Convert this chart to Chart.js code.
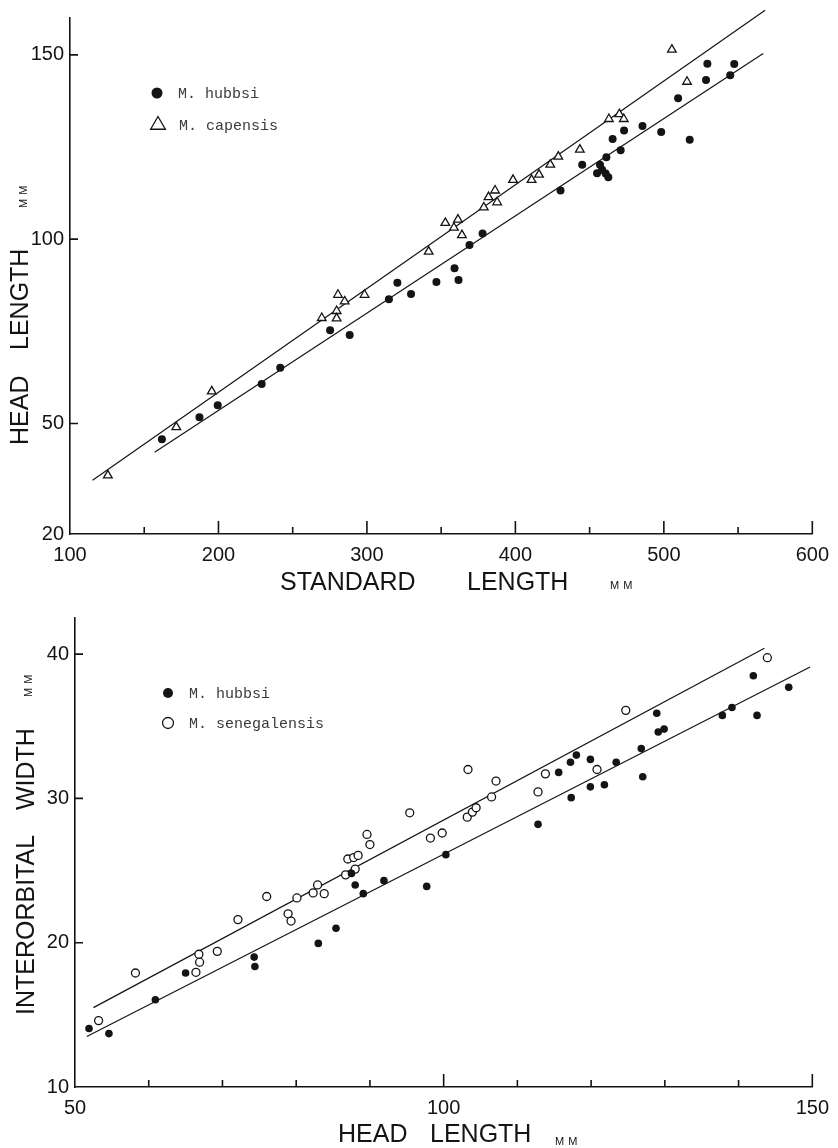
<!DOCTYPE html>
<html>
<head>
<meta charset="utf-8">
<title>Merluccius - head length and interorbital width</title>
<script src="https://cdn.jsdelivr.net/npm/chart.js@4"></script>
<style>
  html, body { margin: 0; padding: 0; background: #fff; }
  canvas { position: absolute; left: 0; }
  #top-chart { top: 0; }
  #bottom-chart { top: 600px; }
</style>
</head>
<body>
<canvas id="top-chart" width="838" height="600"></canvas>
<canvas id="bottom-chart" width="838" height="548"></canvas>
<script>
// ---- upper panel: standard length (x) vs head length (y), mm ----
const slTickLabels = [100, 200, 300, 400, 500, 600];
const slMinorTicks = [150, 250, 350, 450, 550];
const headTickLabels = [20, 50, 100, 150];

const slHubbsiX = [161.9, 187.2, 199.5, 229.1, 241.6, 275.2, 288.4, 314.8, 320.5, 329.7, 346.8, 359.0,
  361.7, 369.1, 377.9, 430.4, 445.0, 455.0, 457.0, 458.4, 460.8, 462.6, 461.3, 465.5, 470.9, 473.2,
  485.6, 498.2, 509.6, 517.4, 528.4, 529.3, 544.7, 547.4];
const headHubbsiY = [45.7, 51.7, 54.9, 60.7, 65.1, 75.3, 74.0, 83.7, 88.2, 85.1, 88.4, 92.1,
  88.9, 98.4, 101.5, 113.2, 120.2, 117.9, 120.2, 118.8, 117.8, 116.8, 122.2, 127.2, 124.1, 129.5,
  130.7, 129.1, 138.2, 127.0, 143.2, 147.6, 144.5, 147.5];

const slCapensisX = [125.5, 171.6, 195.5, 269.6, 279.6, 279.6, 280.5, 285.0, 298.4, 341.6, 352.8, 358.6,
  361.3, 364.0, 378.7, 381.9, 386.3, 387.7, 398.4, 410.9, 415.9, 423.5, 428.9, 443.4, 463.0, 470.0,
  473.0, 505.4, 515.6];
const headCapensisY = [35.9, 49.0, 58.7, 78.6, 80.5, 78.5, 84.9, 83.1, 84.9, 96.6, 104.4, 103.1,
  105.3, 101.1, 108.6, 111.4, 113.2, 110.0, 116.1, 116.1, 117.5, 120.2, 122.4, 124.3, 132.6, 133.9,
  132.6, 151.4, 142.7];

// fitted lines, end points as drawn
const capensisLineX = [115.2, 568.2];
const capensisLineY = [34.6, 162.1];
const hubbsiLineX = [157.0, 566.9];
const hubbsiLineY = [42.2, 150.4];

// ---- lower panel: head length (x) vs interorbital width (y), mm ----
const hlTickLabels = [50, 100, 150];
const hlMinorTicks = [60, 70, 80, 90, 110, 120, 130, 140];
const iwTickLabels = [10, 20, 30, 40];

const hlHubbsiX = [51.9, 54.6, 60.9, 65.0, 74.3, 74.4, 83.0, 85.4, 87.5, 88.0, 89.1, 91.9, 97.7,
  100.3, 112.8, 115.6, 117.2, 117.3, 118.0, 119.9, 119.9, 121.8, 123.4, 126.8, 127.0, 128.9,
  129.1, 129.9, 137.8, 139.1, 142.0, 142.5, 146.8];
const iwHubbsiY = [14.05, 13.7, 16.05, 17.9, 19.0, 18.35, 19.95, 21.0, 24.8, 24.0, 23.4, 24.3, 23.9,
  26.1, 28.2, 31.8, 32.5, 30.05, 33.0, 32.7, 30.8, 30.95, 32.5, 33.45, 31.5, 35.9,
  34.6, 34.8, 35.75, 36.3, 38.5, 35.75, 37.7];

const hlSenegX = [53.2, 58.2, 66.4, 66.9, 66.8, 69.3, 72.1, 76.0, 78.9, 79.3, 80.1, 82.3, 82.9, 83.8,
  86.7, 88.0, 87.0, 87.8, 88.4, 90.0, 89.6, 95.4, 98.2, 99.8, 103.3, 103.2, 103.9, 104.4, 106.5,
  107.1, 112.8, 113.8, 120.8, 124.7, 143.9];
const iwSenegY = [14.6, 17.9, 17.95, 18.65, 19.2, 19.4, 21.6, 23.2, 22.0, 21.5, 23.1, 23.45, 24.0, 23.4,
  24.7, 25.1, 25.8, 25.9, 26.05, 26.8, 27.5, 29.0, 27.25, 27.6, 32.0, 28.7, 29.05, 29.35, 30.1,
  31.2, 30.45, 31.7, 32.0, 36.1, 39.75];

const senegLineX = [52.5, 143.5];
const senegLineY = [15.5, 40.4];
const hubbsiLine2X = [51.6, 149.7];
const hubbsiLine2Y = [13.5, 39.1];

// ---- shared styling ----
const INK = '#141414';
const SANS = '"Liberation Sans", Arial, sans-serif';
const MONO = '"Liberation Mono", "DejaVu Sans Mono", monospace';

const pts = (xs, ys) => xs.map((x, i) => ({ x: x, y: ys[i] }));

function fixedTicks(values) {
  return scale => { scale.ticks = values.map(v => ({ value: v })); };
}

function lineDataset(xs, ys) {
  return {
    data: pts(xs, ys),
    showLine: true,
    fill: false,
    borderColor: INK,
    borderWidth: 1.2,
    pointRadius: 0,
    clip: false,
    order: 2
  };
}

function axisScale(min, max, ticks, fitSize, isX) {
  return {
    type: 'linear',
    min: min,
    max: max,
    afterBuildTicks: fixedTicks(ticks),
    afterFit: scale => {
      if (isX) scale.height = fitSize; else scale.width = fitSize;
    },
    grid: { display: false, drawTicks: false },
    border: { display: true, color: INK, width: 1.6 },
    ticks: {
      color: INK,
      font: { family: SANS, size: 20 },
      padding: isX ? 9 : 6,
      maxRotation: 0,
      autoSkip: false
    }
  };
}

// tick marks point inward from the axes, drawn through the chart's scales
function inwardTicks(xMajor, xMinor, yMajor) {
  return {
    id: 'inwardTicks',
    afterDraw(chart) {
      const { ctx, chartArea, scales } = chart;
      ctx.save();
      ctx.strokeStyle = INK;
      ctx.lineWidth = 1.6;
      ctx.beginPath();
      xMajor.forEach(v => {
        const px = scales.x.getPixelForValue(v);
        ctx.moveTo(px, chartArea.bottom);
        ctx.lineTo(px, chartArea.bottom - 13);
      });
      xMinor.forEach(v => {
        const px = scales.x.getPixelForValue(v);
        ctx.moveTo(px, chartArea.bottom);
        ctx.lineTo(px, chartArea.bottom - 7);
      });
      yMajor.forEach(v => {
        const py = scales.y.getPixelForValue(v);
        ctx.moveTo(chartArea.left, py);
        ctx.lineTo(chartArea.left + 8, py);
      });
      ctx.stroke();
      ctx.restore();
    }
  };
}

// axis titles with the small "MM" unit
function axisTitles(xParts, yParts) {
  return {
    id: 'axisTitles',
    afterDraw(chart) {
      const ctx = chart.ctx;
      ctx.save();
      ctx.fillStyle = INK;
      ctx.textBaseline = 'alphabetic';
      ctx.textAlign = 'left';
      xParts.forEach(p => {
        ctx.font = p.size + 'px ' + SANS;
        ctx.letterSpacing = p.spacing || '0px';
        ctx.fillText(p.text, p.x, p.y);
      });
      yParts.forEach(p => {
        ctx.save();
        ctx.translate(p.x, p.y);
        ctx.rotate(-Math.PI / 2);
        ctx.font = p.size + 'px ' + SANS;
        ctx.letterSpacing = p.spacing || '0px';
        ctx.fillText(p.text, 0, 0);
        ctx.restore();
      });
      ctx.restore();
    }
  };
}

// small key in the upper left corner of each panel
function keyBox(rows) {
  return {
    id: 'keyBox',
    afterDraw(chart) {
      const ctx = chart.ctx;
      ctx.save();
      rows.forEach(r => {
        ctx.beginPath();
        if (r.shape === 'triangle') {
          const rad = r.r;
          ctx.moveTo(r.x, r.y - rad);
          ctx.lineTo(r.x + rad * Math.sin(2 * Math.PI / 3), r.y - rad * Math.cos(2 * Math.PI / 3));
          ctx.lineTo(r.x + rad * Math.sin(4 * Math.PI / 3), r.y - rad * Math.cos(4 * Math.PI / 3));
          ctx.closePath();
        } else {
          ctx.arc(r.x, r.y, r.r, 0, Math.PI * 2);
        }
        if (r.filled) {
          ctx.fillStyle = INK;
          ctx.fill();
        } else {
          ctx.fillStyle = '#fff';
          ctx.fill();
          ctx.strokeStyle = INK;
          ctx.lineWidth = 1.3;
          ctx.stroke();
        }
        ctx.fillStyle = '#3a3a3a';
        ctx.font = '15px ' + MONO;
        ctx.textBaseline = 'middle';
        ctx.fillText(r.label, r.x + 21, r.y + 1);
      });
      ctx.restore();
    }
  };
}

const commonOptions = {
  responsive: false,
  animation: false,
  events: [],
  plugins: { legend: { display: false }, tooltip: { enabled: false } }
};

// ---- upper chart ----
new Chart(document.getElementById('top-chart'), {
  type: 'scatter',
  data: {
    datasets: [
      {
        label: 'M. hubbsi',
        data: pts(slHubbsiX, headHubbsiY),
        pointStyle: 'circle',
        pointRadius: 4,
        backgroundColor: INK,
        borderColor: INK,
        borderWidth: 0,
        order: 1
      },
      {
        label: 'M. capensis',
        data: pts(slCapensisX, headCapensisY),
        pointStyle: 'triangle',
        pointRadius: 5,
        backgroundColor: '#fff',
        borderColor: INK,
        borderWidth: 1.3,
        order: 1
      },
      lineDataset(capensisLineX, capensisLineY),
      lineDataset(hubbsiLineX, hubbsiLineY)
    ]
  },
  options: Object.assign({}, commonOptions, {
    layout: { padding: { left: 0, top: 16, right: 23, bottom: 0 } },
    scales: {
      x: axisScale(100, 600, slTickLabels, 66, true),
      y: axisScale(20, 160, headTickLabels, 70, false)
    }
  }),
  plugins: [
    inwardTicks(slTickLabels.slice(1), slMinorTicks, headTickLabels.slice(1)),
    axisTitles(
      [
        { text: 'STANDARD', x: 280, y: 590, size: 25 },
        { text: 'LENGTH', x: 467, y: 590, size: 25 },
        { text: 'MM', x: 610, y: 589, size: 11, spacing: '4px' }
      ],
      [
        { text: 'HEAD', x: 28, y: 445, size: 25 },
        { text: 'LENGTH', x: 28, y: 350, size: 25 },
        { text: 'MM', x: 27, y: 208, size: 11, spacing: '4px' }
      ]
    ),
    keyBox([
      { shape: 'circle', filled: true, x: 157, y: 93, r: 5.5, label: 'M. hubbsi' },
      { shape: 'triangle', filled: false, x: 158, y: 125, r: 8.5, label: 'M. capensis' }
    ])
  ]
});

// ---- lower chart ----
new Chart(document.getElementById('bottom-chart'), {
  type: 'scatter',
  data: {
    datasets: [
      {
        label: 'M. hubbsi',
        data: pts(hlHubbsiX, iwHubbsiY),
        pointStyle: 'circle',
        pointRadius: 3.8,
        backgroundColor: INK,
        borderColor: INK,
        borderWidth: 0,
        order: 1
      },
      {
        label: 'M. senegalensis',
        data: pts(hlSenegX, iwSenegY),
        pointStyle: 'circle',
        pointRadius: 4,
        backgroundColor: '#fff',
        borderColor: INK,
        borderWidth: 1.3,
        order: 1
      },
      lineDataset(senegLineX, senegLineY),
      lineDataset(hubbsiLine2X, hubbsiLine2Y)
    ]
  },
  options: Object.assign({}, commonOptions, {
    layout: { padding: { left: 0, top: 7, right: 21, bottom: 0 } },
    scales: {
      x: axisScale(50, 150, hlTickLabels, 61, true),
      y: axisScale(10, 42.5, iwTickLabels, 75, false)
    }
  }),
  plugins: [
    inwardTicks(hlTickLabels.slice(1), hlMinorTicks, iwTickLabels.slice(1)),
    axisTitles(
      [
        { text: 'HEAD', x: 338, y: 542, size: 25 },
        { text: 'LENGTH', x: 430, y: 542, size: 25 },
        { text: 'MM', x: 555, y: 545, size: 11, spacing: '4px' }
      ],
      [
        { text: 'INTERORBITAL', x: 34, y: 415, size: 25 },
        { text: 'WIDTH', x: 34, y: 210, size: 25 },
        { text: 'MM', x: 32, y: 97, size: 11, spacing: '4px' }
      ]
    ),
    keyBox([
      { shape: 'circle', filled: true, x: 168, y: 93, r: 5, label: 'M. hubbsi' },
      { shape: 'circle', filled: false, x: 168, y: 123, r: 5.5, label: 'M. senegalensis' }
    ])
  ]
});
</script>
</body>
</html>
